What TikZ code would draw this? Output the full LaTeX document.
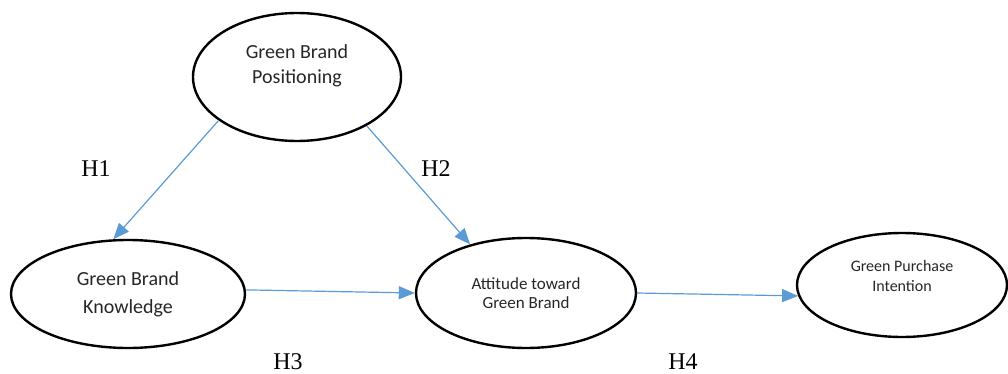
\documentclass[tikz,border=0pt]{standalone}
\usepackage{fontspec}
\setmainfont{Liberation Serif}
\newfontfamily\boxfont{Carlito}
\usetikzlibrary{shapes.geometric,arrows.meta}
\definecolor{linkblue}{RGB}{91,155,213}
\begin{document}
\begin{tikzpicture}[x=1pt,y=-1pt,>={Triangle[length=16pt,width=13pt]},
		construct/.style={ellipse,draw,line width=2.4pt,inner sep=0pt,align=center,text=black!85},
		link/.style={->,draw=linkblue,line width=1.2pt},
		hyp/.style={inner sep=0pt,font=\fontsize{24}{28}\selectfont}]
	\useasboundingbox (0,0) rectangle (1008,374);
	% constructs
	\node[construct,minimum width=208pt,minimum height=128pt,text depth=25pt,font=\boxfont\fontsize{20}{25}\selectfont] (gbp) at (297,77) {Green Brand\\Positioning};
	\node[construct,minimum width=234pt,minimum height=108pt,font=\boxfont\fontsize{20}{28}\selectfont] (gbk) at (128,294) {Green Brand\\Knowledge};
	\node[construct,minimum width=220pt,minimum height=110pt,font=\boxfont\fontsize{17}{19}\selectfont] (atg) at (526,293) {Attitude toward\\Green Brand};
	\node[construct,minimum width=210pt,minimum height=104pt,text depth=18pt,font=\boxfont\fontsize{16}{20}\selectfont] (gpi) at (902,285) {Green Purchase\\Intention};
	% hypotheses
	\draw[link] (gbp.209) -- (gbk.105);
	\draw[link] (gbp.325) -- (atg.139);
	\draw[link] (gbk.2) -- (atg.180);
	\draw[link] (atg.0) -- (gpi.186);
	\node[hyp] (h1) at (96,169) {H1};
	\node[hyp] (h2) at (436,169) {H2};
	\node[hyp] (h3) at (288,362) {H3};
	\node[hyp] (h4) at (683,362) {H4};
\end{tikzpicture}
\end{document}
